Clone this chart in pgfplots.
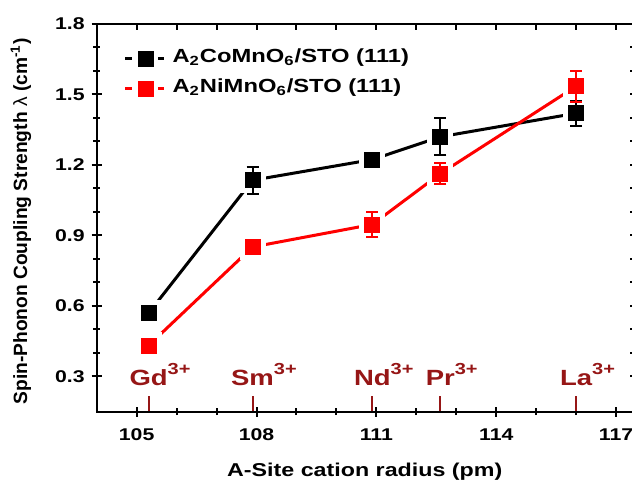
\documentclass[border=0pt]{standalone}
\usepackage{pgfplots}
\usepackage{pgfplotstable}
\pgfplotsset{compat=1.18}
\usepackage{fontspec}
\setmainfont{Liberation Sans}[FakeStretch=1.25]
\newfontfamily\ylabfont{Liberation Sans}
\definecolor{cation}{RGB}{150,22,22}
\definecolor{nired}{RGB}{255,0,0}

% A-site radius (pm), coupling strength, error
\pgfplotstableread{
x y e
105.3 0.570 0.020
107.9 1.135 0.058
110.9 1.223 0.028
112.6 1.320 0.078
116.0 1.420 0.052
}\tabCo
\pgfplotstableread{
x y e
105.3 0.432 0.020
107.9 0.851 0.018
110.9 0.947 0.053
112.6 1.163 0.046
116.0 1.535 0.066
}\tabNi

\pgfplotsset{
  frame/.style={
    scale only axis, width=269.7pt, height=193.85pt,
    xmin=104, xmax=117.5, ymin=0.15, ymax=1.8,
    xtick={105,108,111,114,117}, ytick={0.3,0.6,0.9,1.2,1.5,1.8},
    minor x tick num=2, minor y tick num=2,
    axis line style={line width=1pt},
    tick style={line width=1pt, black},
  },
  halo/.style={line width=1.5pt, on layer=axis background, mark layer=axis background,
    mark=square*, mark size=6.25pt, mark options={fill=white, draw=white, line width=0pt}, forget plot},
  pts/.style={only marks, mark=square*, mark size=3.75pt, forget plot,
    error bars/.cd, y dir=both, y explicit,
    error bar style={line width=1pt, #1},
    error mark options={rotate=90, mark size=3pt, line width=1pt, #1}},
}
\newcommand\cat[2]{%
  \draw[cation, line width=1pt] (axis cs:#1,0.15) -- ([yshift=8pt]axis cs:#1,0.15);
  \node[anchor=base, text=cation, inner sep=0pt, font=\fontsize{11}{12}\selectfont\bfseries]
    at ([yshift=12.85pt]axis cs:#1,0.15) {#2\rlap{\raisebox{0.5em}{\fontsize{8}{9}\selectfont 3+}}};}

\begin{document}
\begin{tikzpicture}
\begin{axis}[
  frame, set layers,
  xtick pos=left, ytick pos=left, tick align=center,
  major tick length=5pt, minor tick length=3.5pt,
  /pgf/number format/assume math mode=true,
  ticklabel style={font=\fontsize{8.5}{10}\selectfont\bfseries},
  yticklabel style={/pgf/number format/.cd, fixed, fixed zerofill, precision=1},
  xticklabel style={yshift=-2.5pt},
  xlabel={\bfseries A-Site cation radius (pm)},
  xlabel style={font=\fontsize{9.3}{11}\selectfont, at={(axis description cs:0.497,0)}, anchor=base, yshift=-32.65pt},
  ylabel={\ylabfont\bfseries Spin-Phonon Coupling Strength {\mdseries λ} (cm\textsuperscript{-1})},
  ylabel style={font=\fontsize{9.6}{11}\selectfont, at={(axis description cs:-0.1404,0.4906)}, anchor=center},
  legend style={draw=none, fill=none, at={(axis description cs:0.0493,0.938)}, anchor=north west,
    inner sep=0pt, row sep=5pt, font=\fontsize{9.5}{11}\selectfont\bfseries,
    nodes={inner sep=0pt, text height=7pt, text depth=3pt}},
  legend cell align=left,
]
% lines, broken at each point (white squares under the marks)
\addplot[black, halo] table[x=x, y=y] {\tabCo};
\addplot[nired, halo] table[x=x, y=y] {\tabNi};
% points with error bars
\addplot[black, pts=black] table[x=x, y=y, y error=e] {\tabCo};
\addplot[nired, pts=nired] table[x=x, y=y, y error=e] {\tabNi};

\addlegendimage{legend image code/.code={
  \draw[black, line width=1.5pt] (0pt,0pt) -- (3.5pt,0pt);
  \fill[black] (6.5pt,-3.75pt) rectangle (14pt,3.75pt);
  \draw[black, line width=1.5pt] (16.5pt,0pt) -- (19.5pt,0pt);
  \path (23.5pt,0pt);}}
\addlegendentry{A\textsubscript{2}CoMnO\textsubscript{6}/STO (111)}
\addlegendimage{legend image code/.code={
  \draw[nired, line width=1.5pt] (0pt,0pt) -- (3.5pt,0pt);
  \fill[nired] (6.5pt,-3.75pt) rectangle (14pt,3.75pt);
  \draw[nired, line width=1.5pt] (16.5pt,0pt) -- (19.5pt,0pt);
  \path (23.5pt,0pt);}}
\addlegendentry{A\textsubscript{2}NiMnO\textsubscript{6}/STO (111)}

% A-site cations
\cat{105.3}{Gd}
\cat{107.9}{Sm}
\cat{110.9}{Nd}
\cat{112.6}{Pr}
\cat{116.0}{La}
\end{axis}
\begin{axis}[
  frame,
  xtick pos=right, ytick pos=right, tick align=inside,
  major tick length=3pt, minor tick length=3pt,
  xticklabels={}, yticklabels={},
]
\end{axis}
\pgfresetboundingbox
\path[use as bounding box] (-48.35pt,-34.65pt) rectangle (267.65pt,205.85pt);
\end{tikzpicture}
\end{document}
